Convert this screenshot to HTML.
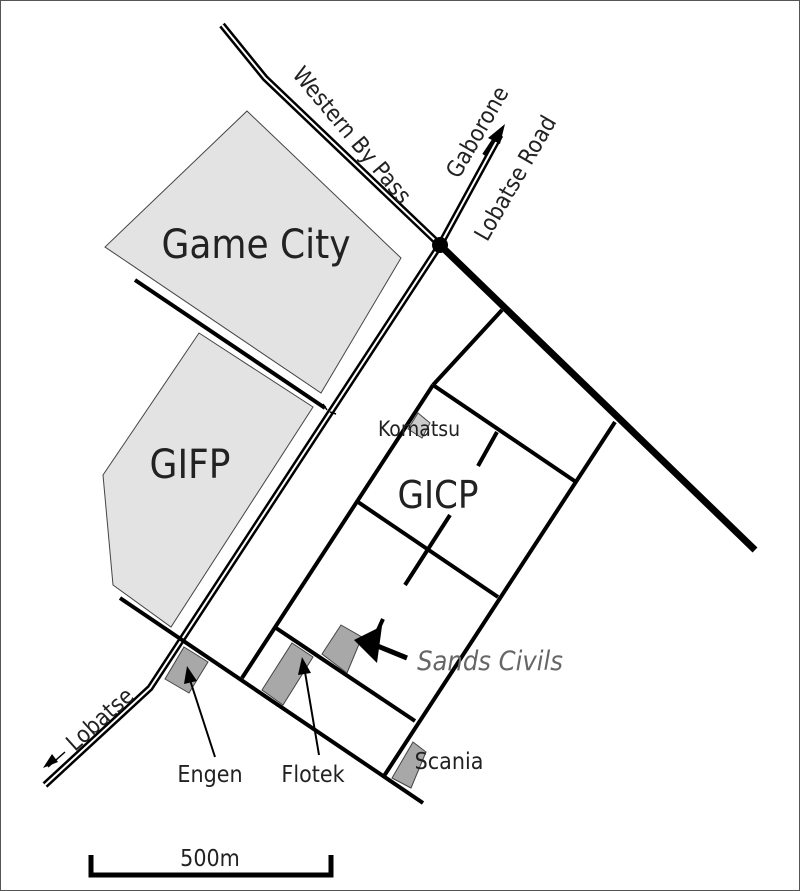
<!DOCTYPE html>
<html><head><style>
html,body{margin:0;padding:0;background:#fff;}
svg{display:block;}
text{font-family:"DejaVu Sans Condensed","DejaVu Sans","Liberation Sans",sans-serif;}
</style></head><body>
<svg width="800" height="891" viewBox="0 0 800 891" xmlns="http://www.w3.org/2000/svg">
<rect x="0.5" y="0.5" width="799" height="890" fill="#fff" stroke="#555" stroke-width="1"/>
<polygon points="247,111 401,258 321,393 105,247" fill="#e3e3e3" stroke="#444" stroke-width="1"/>
<polygon points="199,333 313,407 171,627 113,585 103,475" fill="#e3e3e3" stroke="#444" stroke-width="1"/>
<g fill="none" stroke-linejoin="miter">
<polyline points="45,785 150,688 440,245 500,135" stroke="#000" stroke-width="7"/>
<polyline points="45,785 150,688 440,245 500,135" stroke="#fff" stroke-width="2"/>
<polyline points="222,25 265,78 440,245" stroke="#000" stroke-width="7"/>
<polyline points="222,25 265,78 440,245" stroke="#fff" stroke-width="2"/>
</g>
<polygon points="505,124 488,138 500,144" fill="#000"/>
<line x1="484" y1="155" x2="494" y2="140" stroke="#000" stroke-width="4"/>
<line x1="440" y1="245" x2="755" y2="550" stroke="#000" stroke-width="7"/>
<circle cx="440" cy="245" r="8" fill="#000"/>
<g stroke="#000" stroke-width="4" fill="none">
<line x1="135" y1="280" x2="325" y2="408"/>
<line x1="120" y1="598" x2="423" y2="803"/>
<line x1="242" y1="678" x2="433" y2="385"/>
<line x1="433" y1="385" x2="502" y2="310"/>
<line x1="433" y1="385" x2="576" y2="482"/>
<line x1="615" y1="422" x2="384" y2="776"/>
<line x1="358" y1="502" x2="498" y2="597"/>
<line x1="497" y1="432" x2="478" y2="466"/>
<line x1="450" y1="515" x2="405" y2="585"/>
<line x1="276" y1="628" x2="415" y2="721"/>
<line x1="383" y1="619" x2="368" y2="652"/>
</g>
<g stroke="#000" stroke-width="1.5">
<line x1="323" y1="404" x2="327" y2="410"/><line x1="330" y1="412" x2="336" y2="414"/>
</g>
<g fill="#a8a8a8" stroke="#444" stroke-width="1">
<polygon points="184,647 208,662 189,693 165,679"/>
<polygon points="292,643 313,657 283,705 262,690"/>
<polygon points="341,625 362,637 347,673 322,654"/>
<polygon points="413,742 426,752 411,788 392,778"/>
<polygon points="418,413 430,423 422,438 408,429" fill="#ccc"/>
</g>
<g stroke="#000" stroke-width="2">
<line x1="215" y1="757" x2="190" y2="680"/>
<line x1="319" y1="755" x2="305" y2="672"/>
</g>
<polygon points="187,666 184,684 197,681" fill="#000"/>
<polygon points="302,657 298,675 311,673" fill="#000"/>
<line x1="407" y1="658" x2="375" y2="645" stroke="#000" stroke-width="5"/>
<polygon points="354,640 382,626 377,663" fill="#000"/>
<line x1="48" y1="767" x2="65" y2="752" stroke="#000" stroke-width="1.5"/>
<polygon points="43,768 52,754 58,762" fill="#000"/>
<path d="M91,855 V875 H331 V855" fill="none" stroke="#000" stroke-width="5"/>
<g fill="#222">
<text x="256" y="258" font-size="40" text-anchor="middle">Game City</text>
<text x="190" y="478" font-size="40" text-anchor="middle">GIFP</text>
<text x="438" y="508" font-size="38" text-anchor="middle">GICP</text>
<text x="419" y="436" font-size="21" text-anchor="middle">Komatsu</text>
<text x="210" y="782" font-size="23" text-anchor="middle">Engen</text>
<text x="313" y="782" font-size="23" text-anchor="middle">Flotek</text>
<text x="449" y="769" font-size="23" text-anchor="middle">Scania</text>
<text x="210" y="866" font-size="23" text-anchor="middle">500m</text>
<text x="490" y="670" font-size="27" font-style="italic" fill="#666" text-anchor="middle">Sands Civils</text>
<text font-size="23" text-anchor="middle" transform="translate(346,140) rotate(50)">Western By Pass</text>
<text font-size="23" text-anchor="middle" transform="translate(484,136) rotate(-60)">Gaborone</text>
<text font-size="23" text-anchor="middle" transform="translate(522,182) rotate(-60)">Lobatse Road</text>
<text font-size="23" text-anchor="middle" transform="translate(105,725) rotate(-42)">Lobatse</text>
</g>
</svg>
</body></html>
